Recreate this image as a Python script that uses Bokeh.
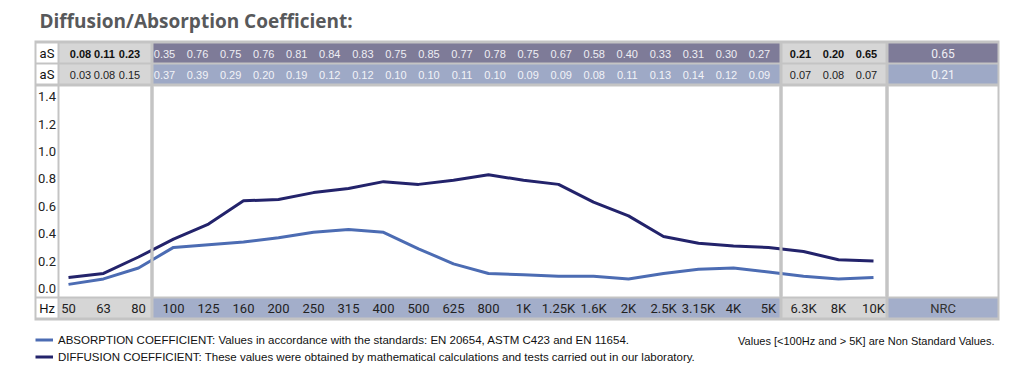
from bokeh.plotting import figure
from bokeh.models import Range1d, Legend, LegendItem
from bokeh.core.properties import value
from bokeh.embed import file_html
from bokeh.resources import INLINE

# ---------------- data ----------------
freqs = ["50", "63", "80", "100", "125", "160", "200", "250", "315", "400", "500",
         "625", "800", "1K", "1.25K", "1.6K", "2K", "2.5K", "3.15K", "4K", "5K",
         "6.3K", "8K", "10K"]
diffusion = [0.08, 0.11, 0.23, 0.36, 0.47, 0.64, 0.65, 0.70, 0.73, 0.78, 0.76,
             0.79, 0.83, 0.79, 0.76, 0.63, 0.53, 0.38, 0.33, 0.31, 0.30,
             0.27, 0.21, 0.20]
absorption = [0.03, 0.07, 0.15, 0.30, 0.32, 0.34, 0.37, 0.41, 0.43, 0.41, 0.29,
              0.18, 0.11, 0.10, 0.09, 0.09, 0.07, 0.11, 0.14, 0.15, 0.12,
              0.09, 0.07, 0.08]

diff_low = ["0.08", "0.11", "0.23"]
diff_std = ["0.35", "0.76", "0.75", "0.76", "0.81", "0.84", "0.83", "0.75", "0.85", "0.77",
            "0.78", "0.75", "0.67", "0.58", "0.40", "0.33", "0.31", "0.30", "0.27"]
diff_high = ["0.21", "0.20", "0.65"]
diff_nrc = "0.65"
abs_low = ["0.03", "0.08", "0.15"]
abs_std = ["0.37", "0.39", "0.29", "0.20", "0.19", "0.12", "0.12", "0.10", "0.10", "0.11",
           "0.10", "0.09", "0.09", "0.08", "0.11", "0.13", "0.14", "0.12", "0.09"]
abs_high = ["0.07", "0.08", "0.07"]
abs_nrc = "0.21"
y_ticks = [0.0, 0.2, 0.4, 0.6, 0.8, 1.0, 1.2, 1.4]

title_text = "Diffusion/Absorption Coefficient:"
abs_label = "ABSORPTION COEFFICIENT: Values in accordance with the standards: EN 20654, ASTM C423 and EN 11654."
diff_label = "DIFFUSION COEFFICIENT: These values were obtained by mathematical calculations and tests carried out in our laboratory."
note_text = "Values [<100Hz and > 5K] are Non Standard Values."

# ---------------- layout ----------------
W, H = 1016, 372
OFF = 0               # page offset of the canvas
PX0, PXS = 68, 35     # page x of first frequency, px per frequency step
PY0, PYS = 288, 137   # page y of value 0, px per unit value


def X(px):  # page px -> data x
    return (px - PX0) / PXS


def Y(py):  # page py -> data y
    return (PY0 - py) / PYS


BORDER = "#c4c4c4"
CELL = "#d6d6d6"
PURPLE = "#7e7b98"
BLUE = "#9ea9c6"
BLUE2 = "#a3aeca"
WHITE = "#ffffff"
DIFF_C = "#23236b"
ABS_C = "#4c6cb3"
NARROW = "Liberation Sans"
SANS = "Roboto"

p = figure(width=W, height=H, x_range=Range1d(X(OFF), X(OFF + W)),
           y_range=Range1d(Y(OFF + H), Y(OFF)), x_axis_type=None, y_axis_type=None,
           output_backend="svg", toolbar_location=None, min_border=0,
           outline_line_color=None)
p.grid.visible = False

cols = {"label": (36, 57), "low": (59, 150), "std": (153, 779), "high": (782, 885), "nrc": (888, 997)}
rows = {"r1": (43, 62), "r2": (64, 83), "chart": (86, 296), "hz": (298, 317)}
row_colors = {
    "r1": {"label": WHITE, "low": CELL, "std": PURPLE, "high": CELL, "nrc": PURPLE},
    "r2": {"label": WHITE, "low": CELL, "std": BLUE, "high": CELL, "nrc": BLUE},
    "chart": {"label": WHITE, "low": WHITE, "std": WHITE, "high": WHITE, "nrc": WHITE},
    "hz": {"label": WHITE, "low": CELL, "std": BLUE2, "high": CELL, "nrc": BLUE2},
}

# outer frame
p.quad(left=[X(34)], right=[X(999)], top=[Y(40)], bottom=[Y(320)],
       fill_color=BORDER, line_color=None)
L, R, T, B, C = [], [], [], [], []
for rk, (rt, rb) in rows.items():
    for ck, (cl, cr) in cols.items():
        L.append(X(cl)); R.append(X(cr)); T.append(Y(rt)); B.append(Y(rb))
        C.append(row_colors[rk][ck])
p.quad(left=L, right=R, top=T, bottom=B, fill_color=C, line_color=None)

# data lines
idx = list(range(len(freqs)))
r_abs = p.line(idx, absorption, line_color=ABS_C, line_width=3, line_join="round")
r_diff = p.line(idx, diffusion, line_color=DIFF_C, line_width=3, line_join="round")

# separators over the lines
p.quad(left=[X(150), X(779), X(885)], right=[X(153), X(782), X(888)],
       top=[Y(86)] * 3, bottom=[Y(296)] * 3, fill_color=BORDER, line_color=None)


def txt(xs, ys, ts, font=SANS, size="13px", color="#222222", style="normal", align="center"):
    p.text(x=xs, y=ys, text=ts, text_font=value(font), text_font_size=value(size),
           text_color=color, text_font_style=style, text_align=align,
           text_baseline="middle")


y1, y2, yh = Y(53), Y(74), Y(308)
lab_x = X(46.5)
txt([lab_x] * 3, [y1, y2, yh], ["aS", "aS", "Hz"], size="13px", color="#111111")
txt([lab_x] * len(y_ticks), y_ticks, ["%.1f" % t for t in y_ticks], size="13px", color="#222222")

low_x = [X(80), X(104), X(129)]
high_x = [X(800), X(833), X(866)]
n = len(diff_std)
std_x = [X(164 + k * (759 - 164) / (n - 1)) for k in range(n)]
nrc_x = X(942.5)

txt(low_x, [y1] * 3, diff_low, font=NARROW, size="11px", color="#111111", style="bold")
txt(high_x, [y1] * 3, diff_high, font=NARROW, size="11px", color="#111111", style="bold")
txt(low_x, [y2] * 3, abs_low, font=NARROW, size="11px", color="#222222")
txt(high_x, [y2] * 3, abs_high, font=NARROW, size="11px", color="#222222")
txt(std_x, [y1] * n, diff_std, font=NARROW, size="11px", color="#eeeef4")
txt(std_x, [y2] * n, abs_std, font=NARROW, size="11px", color="#f2f3f8")
txt([nrc_x], [y1], [diff_nrc], font=SANS, size="12px", color="#eeeef4")
txt([nrc_x], [y2], [abs_nrc], font=SANS, size="12px", color="#f2f3f8")

txt(idx, [yh] * len(freqs), freqs, size="13px", color="#222222")
txt([nrc_x], [yh], ["NRC"], size="13px", color="#333333")

txt([X(39)], [Y(20.5)], [title_text], font="Open Sans", size="19px", color="#58595b",
    style="bold", align="left")
txt([X(994)], [Y(340)], [note_text], font=NARROW, size="11px", color="#111111", align="right")

legend = Legend(items=[LegendItem(label=abs_label, renderers=[r_abs]),
                       LegendItem(label=diff_label, renderers=[r_diff])],
                location=(35, H - 365), orientation="vertical",
                label_text_font=NARROW, label_text_font_size="11.5px", label_text_color="#111111",
                glyph_width=18, glyph_height=17, label_height=17, spacing=0, padding=0,
                margin=0, label_standoff=5, border_line_color=None, background_fill_alpha=0)
p.add_layout(legend)

open("out.html", "w").write(file_html(p, INLINE))
